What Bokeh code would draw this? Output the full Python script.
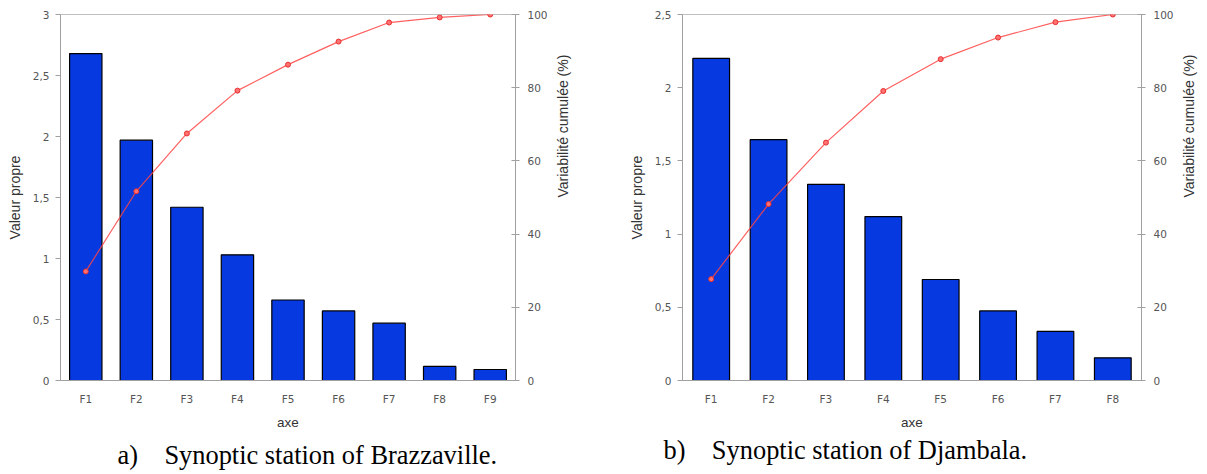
import math
from bokeh.plotting import figure
from bokeh.models import (Range1d, FactorRange, LinearAxis, FixedTicker,
                          CustomJSTickFormatter, Title, ColumnDataSource)
from bokeh.layouts import row
from bokeh.embed import file_html
from bokeh.resources import INLINE

# ---------------- data ----------------
axes_a = ["F1", "F2", "F3", "F4", "F5", "F6", "F7", "F8", "F9"]
eig_a = [2.68, 1.97, 1.42, 1.03, 0.66, 0.57, 0.47, 0.115, 0.09]
cum_a = [29.8, 51.7, 67.5, 79.2, 86.3, 92.6, 97.8, 99.2, 100.0]

axes_b = ["F1", "F2", "F3", "F4", "F5", "F6", "F7", "F8"]
eig_b = [2.20, 1.645, 1.34, 1.12, 0.69, 0.475, 0.335, 0.155]
cum_b = [27.7, 48.2, 65.0, 79.1, 87.8, 93.7, 97.9, 100.0]

yticks_a = [0, 0.5, 1, 1.5, 2, 2.5, 3]
yticks_b = [0, 0.5, 1, 1.5, 2, 2.5]
cum_ticks = [0, 20, 40, 60, 80, 100]

NB = "\u00a0" * 4
caption_a = "a)" + NB + "Synoptic station of Brazzaville."
caption_b = "b)" + NB + "Synoptic station of Djambala."

BAR = "#0639e0"
RED = "#ff4444"
AXC = "#a0a0a0"
TICK_FONT = "DejaVu Sans"
LAB_FONT = "Liberation Sans"

comma_fmt = CustomJSTickFormatter(code="return String(tick).replace('.', ',');")


def make_chart(cats, eig, cum, yticks, ymax, width, height, bl, br, bt, fh,
               cap, cap_offset, cap_standoff):
    p = figure(x_range=FactorRange(*cats, range_padding=0),
               y_range=Range1d(0, ymax), width=width, height=height,
               output_backend="svg", toolbar_location=None,
               min_border_left=bl, min_border_right=br, min_border_top=bt,
               min_border_bottom=height - bt - fh)
    p.extra_y_ranges = {"cum": Range1d(0, 100)}
    p.grid.visible = False
    p.outline_line_color = "#c0c0c0"
    p.background_fill_color = "white"

    src = ColumnDataSource(dict(x=cats, top=eig, cum=cum))
    p.vbar(x="x", top="top", width=0.64, source=src, fill_color=BAR,
           line_color="black", line_width=1.2)
    p.line(x="x", y="cum", source=src, y_range_name="cum", line_color=RED,
           line_width=1.2, line_alpha=0.85)
    p.scatter(x="x", y="cum", source=src, y_range_name="cum", size=5,
              fill_color="#ff7070", line_color="#e83030", line_width=1)

    # left axis
    ya = p.yaxis[0]
    ya.ticker = FixedTicker(ticks=yticks)
    ya.formatter = comma_fmt
    ya.axis_label = "Valeur propre"
    ya.minor_tick_line_color = None
    ya.major_tick_out = 5
    ya.major_tick_in = 0
    ya.major_label_standoff = 6

    # right axis
    ra = LinearAxis(y_range_name="cum", ticker=FixedTicker(ticks=cum_ticks),
                    axis_label="Variabilité cumulée (%)")
    ra.minor_tick_line_color = None
    ra.major_tick_out = 4
    ra.major_tick_in = 4
    ra.major_label_standoff = 8
    try:
        ra.axis_label_orientation = math.pi / 2
    except Exception:
        pass
    p.add_layout(ra, "right")

    xa = p.xaxis[0]
    xa.axis_label = "axe"
    xa.major_tick_out = 0
    xa.major_label_standoff = 12
    xa.axis_label_standoff = 7

    for ax in (ya, ra, xa):
        ax.axis_line_color = AXC
        ax.major_tick_line_color = AXC if ax is not xa else None
        ax.major_label_text_font = TICK_FONT
        ax.major_label_text_font_size = "10.5px"
        ax.major_label_text_color = "#555555"
        ax.axis_label_text_font = LAB_FONT
        ax.axis_label_text_font_style = "normal"
        ax.axis_label_text_color = "#333333"
        ax.axis_label_text_font_size = "14px"
    ya.axis_label_standoff = 7
    ra.axis_label_standoff = 12
    xa.axis_label_text_font_size = "13.5px"

    # caption below the chart
    t = Title(text=cap, align="left", offset=cap_offset, standoff=cap_standoff,
              text_font="Liberation Serif", text_font_size="26.4px",
              text_font_style="normal", text_color="black")
    p.add_layout(t, "below")
    return p


# left chart: frame x 60..515, y 14..380
pa = make_chart(axes_a, eig_a, cum_a, yticks_a, 3, 590, 474, 60, 75, 14, 366,
                caption_a, 57, 10)
# right chart: frame x 682..1145, y 14..380
pb = make_chart(axes_b, eig_b, cum_b, yticks_b, 2.5, 617, 474, 92, 62, 14, 366,
                caption_b, -19, 0)

layout = row(pa, pb)
open("out.html", "w").write(file_html(layout, INLINE))
